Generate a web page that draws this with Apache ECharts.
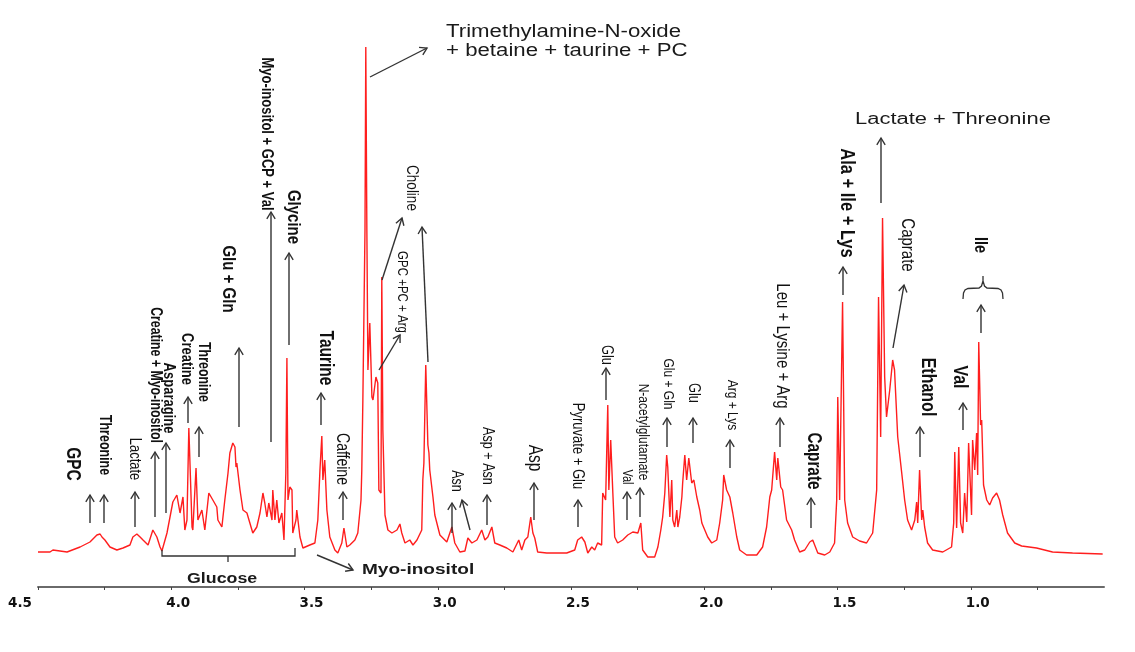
<!DOCTYPE html>
<html><head><meta charset="utf-8">
<script src="https://cdn.jsdelivr.net/npm/echarts/dist/echarts.min.js"></script>
<style>html,body{margin:0;padding:0;background:#fff}#c{width:1135px;height:652px}</style>
</head><body><div id="c"></div>
<script>
// 1H NMR spectrum: [chemical shift (ppm), intensity (a.u.)]
const spectrum = [
[4.500,35],[4.455,35],[4.444,37],[4.391,35],[4.342,40],[4.305,45],[4.279,52],[4.267,53],[4.260,50],[4.249,47],
[4.230,40],[4.204,37],[4.181,39],[4.155,42],[4.144,50],[4.129,53],[4.117,50],[4.106,47],[4.087,42],[4.069,57],
[4.054,50],[4.042,40],[4.035,36],[4.016,54],[3.994,85],[3.979,92],[3.967,74],[3.956,90],[3.949,57],[3.941,67],
[3.934,159],[3.922,60],[3.919,57],[3.907,119],[3.900,67],[3.885,77],[3.874,57],[3.859,94],[3.844,87],[3.829,80],
[3.825,67],[3.810,60],[3.799,87],[3.787,114],[3.780,134],[3.769,144],[3.761,140],[3.757,120],[3.754,124],[3.742,97],
[3.731,77],[3.716,74],[3.705,64],[3.694,54],[3.679,60],[3.667,74],[3.656,94],[3.649,84],[3.641,70],[3.634,84],
[3.622,67],[3.619,97],[3.611,67],[3.604,87],[3.596,64],[3.585,74],[3.577,47],[3.570,114],[3.566,229],[3.562,87],
[3.555,100],[3.547,97],[3.544,54],[3.532,67],[3.529,77],[3.517,50],[3.506,39],[3.480,42],[3.461,44],[3.450,67],
[3.442,117],[3.435,151],[3.431,107],[3.424,127],[3.416,77],[3.405,50],[3.386,37],[3.375,34],[3.360,44],[3.352,59],
[3.341,40],[3.330,42],[3.311,47],[3.300,54],[3.288,87],[3.285,117],[3.281,187],[3.273,357],[3.270,540],[3.266,357],
[3.262,217],[3.255,264],[3.247,190],[3.243,187],[3.232,210],[3.225,204],[3.221,97],[3.213,94],[3.210,310],[3.206,157],
[3.198,72],[3.187,57],[3.172,54],[3.153,57],[3.142,63],[3.135,54],[3.123,44],[3.105,47],[3.093,42],[3.078,47],
[3.060,57],[3.056,107],[3.052,124],[3.045,222],[3.037,142],[3.033,134],[3.030,117],[3.018,90],[3.011,72],[2.992,52],
[2.966,45],[2.947,60],[2.936,44],[2.917,35],[2.898,36],[2.887,49],[2.872,44],[2.853,47],[2.835,57],[2.823,47],
[2.812,50],[2.797,60],[2.786,44],[2.767,42],[2.741,39],[2.718,35],[2.696,47],[2.685,37],[2.673,47],[2.662,50],
[2.651,70],[2.643,54],[2.636,49],[2.625,35],[2.591,34],[2.553,34],[2.516,34],[2.486,37],[2.475,47],[2.460,50],
[2.448,45],[2.437,34],[2.422,40],[2.411,37],[2.400,44],[2.385,42],[2.381,94],[2.370,87],[2.362,182],[2.358,97],
[2.351,147],[2.343,94],[2.336,50],[2.325,44],[2.306,47],[2.287,52],[2.268,55],[2.249,54],[2.238,64],[2.231,37],
[2.212,30],[2.186,30],[2.174,40],[2.163,57],[2.156,70],[2.148,94],[2.141,132],[2.137,120],[2.129,70],[2.122,107],
[2.118,67],[2.111,60],[2.103,77],[2.099,60],[2.092,70],[2.084,90],[2.081,104],[2.073,132],[2.066,107],[2.058,129],
[2.047,104],[2.039,107],[2.028,90],[2.017,77],[2.009,64],[1.998,57],[1.987,50],[1.972,44],[1.953,47],[1.942,64],
[1.931,87],[1.927,112],[1.916,97],[1.904,90],[1.893,74],[1.878,50],[1.867,37],[1.841,32],[1.803,32],[1.781,40],
[1.766,60],[1.754,90],[1.747,97],[1.736,135],[1.728,107],[1.724,129],[1.713,100],[1.706,97],[1.691,67],[1.672,57],
[1.661,47],[1.642,35],[1.623,37],[1.604,45],[1.593,47],[1.574,34],[1.548,32],[1.529,35],[1.511,44],[1.503,87],
[1.499,190],[1.492,87],[1.481,285],[1.473,87],[1.462,64],[1.443,50],[1.417,46],[1.391,44],[1.368,54],[1.353,97],
[1.346,290],[1.338,150],[1.331,369],[1.323,210],[1.316,170],[1.304,197],[1.293,227],[1.286,217],[1.274,150],[1.259,114],
[1.248,87],[1.237,67],[1.222,57],[1.210,67],[1.203,85],[1.199,64],[1.192,117],[1.184,67],[1.180,77],[1.173,60],
[1.162,44],[1.143,37],[1.105,35],[1.072,40],[1.064,64],[1.060,135],[1.053,59],[1.045,140],[1.038,64],[1.030,54],
[1.023,94],[1.015,65],[1.008,144],[0.997,72],[0.993,147],[0.985,117],[0.978,154],[0.974,112],[0.970,245],[0.963,162],
[0.959,167],[0.952,102],[0.940,87],[0.929,82],[0.918,89],[0.903,94],[0.892,87],[0.880,72],[0.862,54],[0.835,44],
[0.809,41],[0.753,39],[0.693,35],[0.618,34],[0.505,33]
];
const labeledTicks = [4.5, 4.0, 3.5, 3.0, 2.5, 2.0, 1.5, 1.0];

// Annotation layout (pixel positions) -------------------------------------
const SX = 1.27; // horizontal stretch of the original figure's lettering
const vLabels = [
  ['GPC',72,464,15.5,1],['Threonine',104,445,12.5,1],['Lactate',135,459,13,0],
  ['Creatine + Myo-inositol',155,375,12.3,1],['Asparagine',169,398,13,1],['Creatine',187,359,13,1],
  ['Threonine',203,372,12.4,1],['Glu + Gln',228,279,15,1],['Myo-inositol + GCP + Val',267,134,13,1],
  ['Glycine',293,217,15,1],['Taurine',325,358,15.5,1],['Caffeine',342,459,14,0],
  ['Choline',412,188,13.5,0],['GPC +PC + Arg',402,292,11.5,0],['Asn',456,481,12.5,0],
  ['Asp + Asn',487,456,12.6,0],['Asp',534,458,15.5,0],['Pyruvate + Glu',578,446,13,0],
  ['Glu',606,355,12.8,0],['Val',627,477,11,0],['N-acetylglutamate',643,432,12,0],
  ['Glu + Gln',668,384,12,0],['Glu',693,393,12.8,0],['Arg + Lys',732,405,12,0],
  ['Leu + Lysine + Arg',782,346,15,0],['Caprate',813,461,15.3,1],['Ala + Ile + Lys',847,203,16.5,1],
  ['Caprate',907,245,15,0],['Ethanol',928,387,16,1],['Val',960,377,16,1],['Ile',980,245,14.4,1]
];
const hLabels = [
  ['Trimethylamine-N-oxide',446,32,17.5,0],['+ betaine + taurine + PC',446,51,17.5,0],
  ['Lactate + Threonine',855,119,17.3,0],['Glucose',187,579,14,1],['Myo-inositol',362,570,15,1]
];
const arrows = [
  [90,523,90,495],[104,523,104,495],[135,527,135,492],[155,517,155,452],[166,513,166,443],
  [188,423,188,397],[199,457,199,427],[239,427,239,348],[271,442,271,212],[289,345,289,253],
  [321,425,321,393],[343,520,343,492],[370,77,427,48],[428,362,422,227],[382,280,402,218],
  [379,370,400,335],[452,533,452,503],[470,530,462,500],[487,525,487,495],[534,520,534,483],
  [578,527,578,500],[606,400,606,368],[627,520,627,492],[640,517,640,488],[667,447,667,418],
  [693,443,693,418],[730,468,730,440],[780,447,780,418],[811,528,811,498],[843,295,843,267],
  [881,203,881,138],[893,348,904,285],[920,457,920,427],[963,430,963,403],[981,333,981,305],
  [317,555,353,570]
];

const FONT = '"Liberation Sans", Arial, Helvetica, sans-serif';
const graphics = [];
vLabels.forEach(([t,x,y,s,b]) => graphics.push({
  type:'text', x:x, y:y, rotation:-Math.PI/2, scaleY:SX, silent:true, z:10,
  style:{text:t, fontSize:s, fontWeight:b?'bold':'normal', fontFamily:FONT, fill:'#111',
         textAlign:'center', textVerticalAlign:'middle', verticalAlign:'middle'}
}));
hLabels.forEach(([t,x,y,s,b]) => graphics.push({
  type:'text', x:x, y:y, scaleX:SX, silent:true, z:10,
  style:{text:t, fontSize:s, fontWeight:b?'bold':'normal', fontFamily:FONT, fill:'#1a1a1a',
         textAlign:'left', textVerticalAlign:'middle', verticalAlign:'middle'}
}));
const AC = '#333', AW = 1.4;
arrows.forEach(([x1,y1,x2,y2]) => {
  const a = Math.atan2(y2-y1, x2-x1), L = 8, sp = 0.55;
  graphics.push({type:'line', silent:true, z:9, shape:{x1,y1,x2,y2}, style:{stroke:AC, lineWidth:AW}});
  graphics.push({type:'polyline', silent:true, z:9, shape:{points:[
    [x2 - L*Math.cos(a-sp), y2 - L*Math.sin(a-sp)], [x2,y2],
    [x2 - L*Math.cos(a+sp), y2 - L*Math.sin(a+sp)]]}, style:{stroke:AC, lineWidth:AW, fill:'none'}});
});
// Glucose bracket
graphics.push({type:'polyline', silent:true, z:9, shape:{points:[[162,550],[162,556],[295,556],[295,548]]}, style:{stroke:'#333', lineWidth:1.3, fill:'none'}});
graphics.push({type:'line', silent:true, z:9, shape:{x1:228,y1:556,x2:228,y2:562}, style:{stroke:'#333', lineWidth:1.3}});
// Ile brace
graphics.push({type:'polyline', silent:true, z:9, shape:{points:[
  [963,299],[963.5,293],[965,290],[968,288.5],[979,288],[981.5,286],[983,281],[983,276],
  [983,281],[984.5,286],[987,288],[998,288.5],[1001,290],[1002.5,293],[1003,299]]},
  style:{stroke:'#333', lineWidth:1.3, fill:'none'}});

const chart = echarts.init(document.getElementById('c'), null, {renderer:'canvas'});
chart.setOption({
  animation:false,
  backgroundColor:'#fff',
  grid:{left:38, right:31, top:40, bottom:65},
  xAxis:{
    type:'value', min:0.5, max:4.5, interval:0.25, inverse:true,
    axisLine:{show:true, lineStyle:{color:'#6a6a6a', width:2}},
    axisTick:{show:true, length:3, lineStyle:{color:'#444', width:1}},
    splitLine:{show:false},
    axisLabel:{
      margin:9, showMaxLabel:true, showMinLabel:false,
      formatter: v => {
        const m = labeledTicks.find(t => Math.abs(t - v) < 1e-6);
        if (m === undefined) return '';
        return (m === 4.5 ? '{f|' : '{n|') + m.toFixed(1) + '}';
      },
      rich:{
        n:{fontFamily:'"DejaVu Sans", sans-serif', fontWeight:'bold', fontSize:13.5, color:'#111', padding:[0,0,0,14]},
        f:{fontFamily:'"DejaVu Sans", sans-serif', fontWeight:'bold', fontSize:13.5, color:'#111', padding:[0,36,0,0]}
      }
    }
  },
  yAxis:{type:'value', min:0, max:547, show:false, splitLine:{show:false}},
  series:[{
    type:'line', data:spectrum, showSymbol:false, symbol:'none', smooth:false,
    lineStyle:{color:'#ff1e1e', width:1.4}, z:5
  }],
  graphic:graphics
});
</script></body></html>
